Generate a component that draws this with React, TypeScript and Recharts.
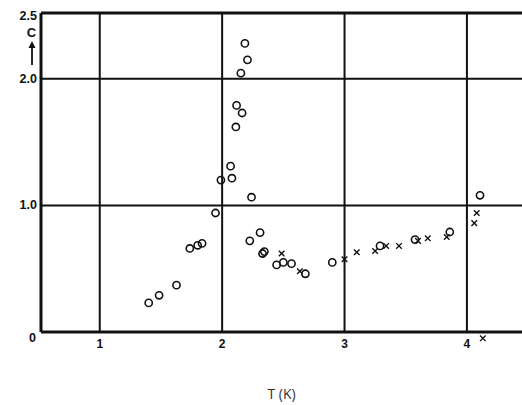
import React from "react";
import {
  ScatterChart,
  Scatter,
  XAxis,
  YAxis,
  ReferenceLine,
  ReferenceDot,
} from "recharts";

const circleT = [1.4, 1.485, 1.627, 1.736, 1.8, 1.836, 1.946, 1.99, 2.069, 2.08, 2.112, 2.118, 2.163, 2.153, 2.207, 2.186, 2.24, 2.226, 2.31, 2.33, 2.345, 2.445, 2.5, 2.567, 2.68, 2.9, 3.29, 3.576, 3.86, 4.107];
const circleC = [0.23, 0.29, 0.37, 0.66, 0.685, 0.7, 0.94, 1.2, 1.31, 1.215, 1.62, 1.79, 1.73, 2.045, 2.15, 2.28, 1.065, 0.72, 0.785, 0.62, 0.635, 0.53, 0.55, 0.54, 0.46, 0.55, 0.68, 0.73, 0.79, 1.08];

const crossT = [2.486, 2.635, 3.0, 3.1, 3.25, 3.34, 3.445, 3.6, 3.68, 3.835, 4.06, 4.08];
const crossC = [0.62, 0.48, 0.575, 0.63, 0.64, 0.68, 0.68, 0.72, 0.74, 0.75, 0.86, 0.94];

// one stray cross printed just under the axis
const strayT = 4.13;
const strayC = -0.05;

const xTicks = [1, 2, 3, 4];
const yTicks = [0, 1, 2, 2.5];
const yTickLabels = ["0", "1.0", "2.0", "2.5"];
const gridT = [1, 2, 3, 4];
const gridC = [1, 2];

const circles = circleT.map((t, i) => ({ t, c: circleC[i] }));
const crosses = crossT.map((t, i) => ({ t, c: crossC[i] }));

const INK = "#111";
const FONT = "'Liberation Sans', Arial, sans-serif";

const Ring = (props: any) => (
  <circle cx={props.cx} cy={props.cy} r={3.6} fill="none" stroke={INK} strokeWidth={1.6} />
);

const Cross = (props: any) => {
  const { cx, cy } = props;
  const s = 2.8;
  return (
    <g stroke={INK} strokeWidth={1.4}>
      <line x1={cx - s} y1={cy - s} x2={cx + s} y2={cy + s} />
      <line x1={cx - s} y1={cy + s} x2={cx + s} y2={cy - s} />
    </g>
  );
};

const XTick = (props: any) => {
  const { x, y, payload } = props;
  return (
    <text x={x} y={y + 14} textAnchor="middle" fontSize={12} fontWeight="bold" fill={INK} fontFamily={FONT}>
      {payload.value}
    </text>
  );
};

const YTick = (props: any) => {
  const { x, y, payload } = props;
  const idx = yTicks.indexOf(payload.value);
  const isZero = payload.value === 0;
  return (
    <text
      x={isZero ? x - 1 : x}
      y={isZero ? y + 10 : y + 4}
      textAnchor="end"
      fontSize={12.5}
      fontWeight="bold"
      fill={INK}
      fontFamily={FONT}
    >
      {yTickLabels[idx]}
    </text>
  );
};

// "C" with an upward arrow under the top-left tick
const CLabel = () => (
  <g>
    <text x={31.5} y={37} textAnchor="middle" fontSize={13} fontWeight="bold" fill={INK} fontFamily={FONT}>
      C
    </text>
    <line x1={32} y1={47} x2={32} y2={65} stroke={INK} strokeWidth={1.8} />
    <path d="M28.5,48 L32,41 L35.5,48 Z" fill={INK} />
  </g>
);

export default function App() {
  return (
    <div style={{ position: "absolute", left: 0, top: 0, background: "#fff" }}>
      <ScatterChart width={522} height={405} margin={{ top: 13, right: 0, bottom: 0, left: 0 }}>
        <XAxis
          type="number"
          dataKey="t"
          domain={[0.52, 4.45]}
          ticks={xTicks}
          allowDataOverflow
          axisLine={{ stroke: INK, strokeWidth: 3 }}
          tickLine={false}
          tickSize={0}
          tick={<XTick />}
          height={73}
          label={{ value: "T (K)", position: "insideBottom", offset: 6, fill: "#333", fontSize: 14, fontFamily: "'Open Sans', sans-serif" }}
        />
        <YAxis
          type="number"
          dataKey="c"
          domain={[0, 2.52]}
          ticks={yTicks}
          allowDataOverflow
          axisLine={{ stroke: INK, strokeWidth: 3 }}
          tickLine={false}
          tickSize={0}
          tickMargin={4}
          width={41}
          tick={<YTick />}
          label={{ content: () => <CLabel /> }}
        />
        {gridT.map((v) => (
          <ReferenceLine key={"gx" + v} x={v} stroke={INK} strokeWidth={2} />
        ))}
        {gridC.map((v) => (
          <ReferenceLine key={"gy" + v} y={v} stroke={INK} strokeWidth={2} />
        ))}
        <ReferenceLine y={2.52} stroke={INK} strokeWidth={3} />
        <Scatter data={circles} shape={<Ring />} isAnimationActive={false} />
        <Scatter data={crosses} shape={<Cross />} isAnimationActive={false} />
        <ReferenceDot x={strayT} y={strayC} ifOverflow="visible" shape={<Cross />} />
      </ScatterChart>
    </div>
  );
}
